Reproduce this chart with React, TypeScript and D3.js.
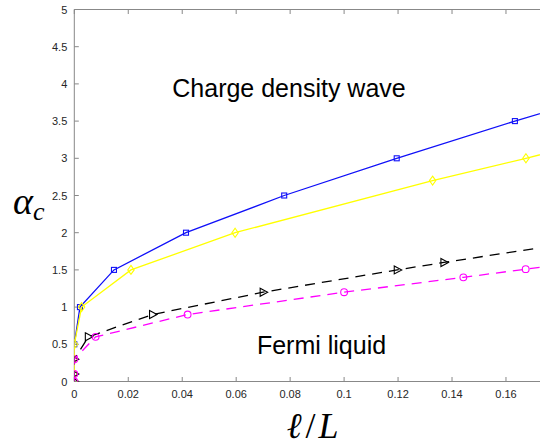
import React from 'react';
import { scaleLinear, line } from 'd3';

// data (x = l/L, y = alpha_c)
const blueX = [0, 0.0021, 0.0147, 0.0414, 0.0778, 0.1195, 0.1633, 0.21];
const blueY = [0.5, 1.0, 1.5, 2.0, 2.5, 3.0, 3.5, 4.0];
const yellowX = [0, 0, 0, 0, 0.0027, 0.021, 0.0596, 0.1328, 0.1674, 0.2];
const yellowY = [0, 0.1, 0.3, 0.5, 1.0, 1.5, 2.0, 2.7, 3.0, 3.3];
const blackX = [0, 0, 0, 0.0052, 0.029, 0.07, 0.1197, 0.137, 0.2];
const blackY = [0, 0.1, 0.3, 0.6, 0.9, 1.2, 1.5, 1.6, 1.95];
const magentaX = [0, 0, 0, 0.0079, 0.042, 0.1, 0.1442, 0.1673, 0.2];
const magentaY = [0, 0.1, 0.3, 0.6, 0.9, 1.2, 1.4, 1.51, 1.67];

const xTicks = [0, 0.02, 0.04, 0.06, 0.08, 0.1, 0.12, 0.14, 0.16];
const yTicks = [0, 0.5, 1, 1.5, 2, 2.5, 3, 3.5, 4, 4.5, 5];

const series = [
  { xs: blueX, ys: blueY, color: '#1010f8', marker: 'square', dash: null },
  { xs: yellowX, ys: yellowY, color: '#ffff00', marker: 'diamond', dash: null },
  { xs: blackX, ys: blackY, color: '#000000', marker: 'triangle', dash: '10,7' },
  { xs: magentaX, ys: magentaY, color: '#ff00ff', marker: 'circle', dash: '10,7' }
];

const width = 540;
const height = 446;
const left = 74.3;
const top = 9.5;
const bottom = 381.5;
const axisColor = '#888888';
const textColor = '#262626';
const sans = 'Liberation Sans, Arial, Helvetica, sans-serif';
const serif = 'Liberation Serif, Times New Roman, serif';

const Marker = ({ type, x, y, color }) => {
  const common = { fill: 'none', stroke: color, strokeWidth: 1.1 };
  if (type === 'square') return <rect x={x - 2.5} y={y - 2.5} width={5} height={5} {...common} />;
  if (type === 'diamond')
    return <path d={`M${x},${y - 4.5}L${x + 3.2},${y}L${x},${y + 4.5}L${x - 3.2},${y}Z`} {...common} />;
  if (type === 'triangle')
    return <path d={`M${x - 3},${y - 4}L${x + 4.5},${y}L${x - 3},${y + 4}Z`} {...common} />;
  return <circle cx={x} cy={y} r={3.4} {...common} />;
};

const App = () => {
  const xScale = scaleLinear().domain([0, 0.18]).range([left, left + 9 * 53.96]);
  const yScale = scaleLinear().domain([0, 5]).range([bottom, top]);
  const right = xScale(0.18);

  return (
    <svg
      width={width}
      height={height}
      style={{ position: 'absolute', left: 0, top: 0, background: '#fff' }}
    >
      <defs>
        <clipPath id="plot">
          <rect x={left} y={top} width={right - left} height={bottom - top} />
        </clipPath>
      </defs>

      {/* axes box */}
      <line x1={left} x2={right} y1={bottom} y2={bottom} stroke={axisColor} />
      <line x1={left} x2={right} y1={top} y2={top} stroke={axisColor} />
      <line x1={left} x2={left} y1={top} y2={bottom} stroke={axisColor} />

      {xTicks.map(t => (
        <g key={'x' + t}>
          <line x1={xScale(t)} x2={xScale(t)} y1={bottom} y2={bottom - 4.5} stroke={axisColor} />
          <line x1={xScale(t)} x2={xScale(t)} y1={top} y2={top + 4.5} stroke={axisColor} />
          <text
            x={xScale(t)}
            y={bottom + 16.5}
            textAnchor="middle"
            fontSize={11}
            fontFamily={sans}
            fill={textColor}
          >
            {t}
          </text>
        </g>
      ))}
      {yTicks.map(t => (
        <g key={'y' + t}>
          <line x1={left} x2={left + 4.5} y1={yScale(t)} y2={yScale(t)} stroke={axisColor} />
          <text
            x={left - 7}
            y={yScale(t) + 4}
            textAnchor="end"
            fontSize={11}
            fontFamily={sans}
            fill={textColor}
          >
            {t}
          </text>
        </g>
      ))}

      <g clipPath="url(#plot)">
        {series.map((s, i) => {
          const pts = s.xs.map((x, j) => [xScale(x), yScale(s.ys[j])]);
          return (
            <g key={i}>
              <path
                d={line()(pts)}
                fill="none"
                stroke={s.color}
                strokeWidth={1.3}
                strokeDasharray={s.dash || undefined}
              />
              {pts.map((p, j) => (
                <Marker key={j} type={s.marker} x={p[0]} y={p[1]} color={s.color} />
              ))}
            </g>
          );
        })}
      </g>

      <text x={289} y={97} textAnchor="middle" fontSize={25} fontFamily={sans} fill="#000">
        Charge density wave
      </text>
      <text x={321.5} y={354} textAnchor="middle" fontSize={25} fontFamily={sans} fill="#000">
        Fermi liquid
      </text>

      <text x={13} y={214} fontFamily={serif} fontStyle="italic" fill="#000">
        <tspan fontSize={38}>α</tspan>
        <tspan fontSize={26} dy={6}>c</tspan>
      </text>

      <text x={312.5} y={438} textAnchor="middle" fontFamily={serif} fontSize={36} fill="#000">
        <tspan fontStyle="italic">ℓ</tspan>
        <tspan dx={4}>/</tspan>
        <tspan dx={3} fontStyle="italic">L</tspan>
      </text>
    </svg>
  );
};

export default App;
